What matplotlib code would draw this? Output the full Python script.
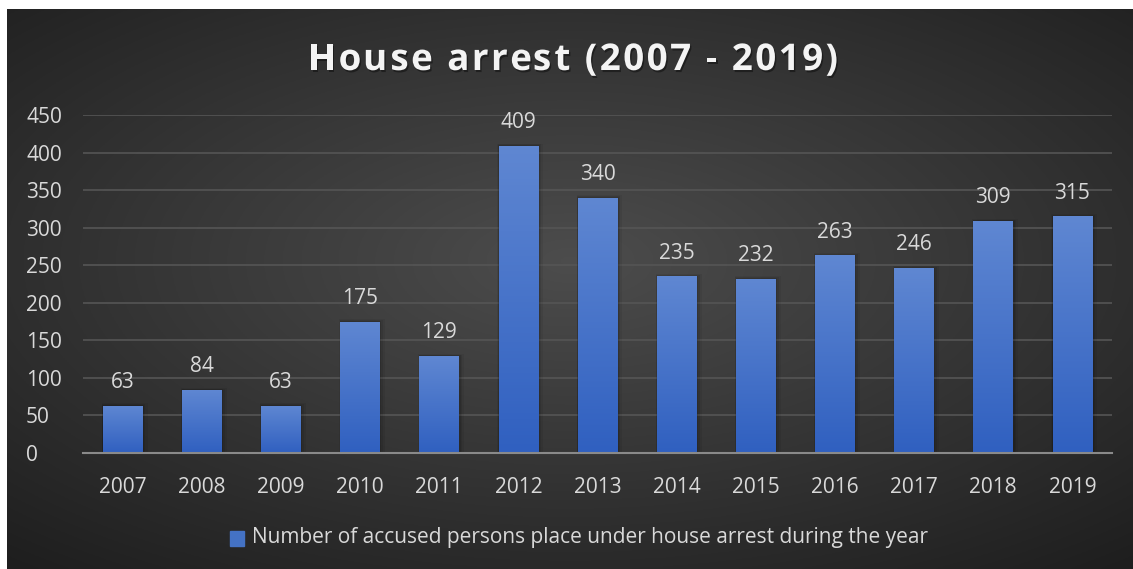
import matplotlib.pyplot as plt
import numpy as np
from matplotlib.patches import Rectangle
import matplotlib.patheffects as pe

years = ['2007', '2008', '2009', '2010', '2011', '2012', '2013',
         '2014', '2015', '2016', '2017', '2018', '2019']
counts = [63, 84, 63, 175, 129, 409, 340, 235, 232, 263, 246, 309, 315]
series_name = 'Number of accused persons place under house arrest during the year'
title = 'House arrest (2007 - 2019)'

plt.rcParams['font.family'] = ['Open Sans', 'DejaVu Sans']
txt = '#d9d9d9'
W, H = 1133, 569

fig = plt.figure(figsize=(11.33, 5.69), dpi=100)
fig.patch.set_facecolor('white')

# dark radial background panel
bg = fig.add_axes([7/W, 0, (W-7)/W, (H-9)/H])
yy, xx = np.mgrid[-1:1:300j, -1:1:600j]
r = np.sqrt((xx*0.85)**2 + ((yy + 0.1)*0.9)**2)
shade = 0.30 - 0.14*np.clip(r, 0, 1.4)
bg.imshow(np.dstack([shade]*3), aspect='auto', extent=[0, 1, 0, 1])
bg.set_axis_off()

ax = fig.add_axes([83/W, 116/H, 1029/W, 338/H])
ax.patch.set_alpha(0)
x = np.arange(len(years))
bars = ax.bar(x, counts, width=0.5, color='#4472c4', zorder=3)

grad = np.linspace(0, 1, 100).reshape(-1, 1)
top_c = np.array([0x5f, 0x87, 0xd2]) / 255
bot_c = np.array([0x30, 0x60, 0xc0]) / 255
img = grad[..., None] * top_c + (1 - grad[..., None]) * bot_c
for b in bars:
    bx, by = b.get_x(), b.get_y()
    w, h = b.get_width(), b.get_height()
    # soft shadow
    for k, a in [(0.05, 0.06), (0.03, 0.08), (0.015, 0.10)]:
        ax.add_patch(Rectangle((bx - k*0.3, by), w + k*1.6, h + k*60,
                               color='black', alpha=a, zorder=2, lw=0))
    im = ax.imshow(img, extent=[bx, bx + w, by, by + h], origin='lower',
                   aspect='auto', zorder=4)
    im.set_clip_path(b)

for xi, v in zip(x, counts):
    ax.text(xi, v + 17, str(v), ha='center', va='bottom', color=txt, fontsize=15, zorder=5)

ax.set_xlim(-0.5, len(years) - 0.5)
ax.set_ylim(0, 450)
ax.set_yticks(np.arange(0, 451, 50))
ax.set_xticks(x)
ax.set_xticklabels(years)
ax.grid(axis='y', color='#555555', linewidth=1.2, zorder=0)
for s in ['top', 'right', 'left']:
    ax.spines[s].set_visible(False)
ax.spines['bottom'].set_color('#8a8a8a')
ax.spines['bottom'].set_linewidth(1.5)
ax.spines['bottom'].set_zorder(6)
ax.tick_params(length=0, colors=txt, labelsize=15)
ax.tick_params(axis='x', pad=17)
ax.tick_params(axis='y', pad=41)
for lb in ax.get_yticklabels():
    lb.set_horizontalalignment('left')

# letter-spaced title
renderer = fig.canvas.get_renderer()
tsize = 26.5
shadow = [pe.withSimplePatchShadow(offset=(1, -1.5), shadow_rgbFace='black', alpha=0.4)]
probe = fig.text(0, 0, title, fontsize=tsize, fontweight='bold')
full_w = probe.get_window_extent(renderer).width
probe.remove()
target_w = 530
gap = (target_w - full_w) / (len(title) - 1)
x0 = 308
ty = (H - 60) / H
for i, ch in enumerate(title):
    if i > 0:
        p = fig.text(0, 0, title[:i] + 'x', fontsize=tsize, fontweight='bold')
        q = fig.text(0, 0, 'x', fontsize=tsize, fontweight='bold')
        off = p.get_window_extent(renderer).width - q.get_window_extent(renderer).width
        p.remove()
        q.remove()
    else:
        off = 0
    fig.text((x0 + off + i*gap)/W, ty, ch, ha='left', va='center', color='#f4f4f4',
             fontsize=tsize, fontweight='bold', path_effects=shadow)

# legend
fig.patches.append(Rectangle((230/W, (H-546)/H), 14/W, 15/H,
                             transform=fig.transFigure, color='#4472c4', figure=fig))
fig.text(252/W, (H-538)/H, series_name, ha='left', va='center',
         color=txt, fontsize=15)

fig.savefig('out.png', dpi=100, facecolor='white')
